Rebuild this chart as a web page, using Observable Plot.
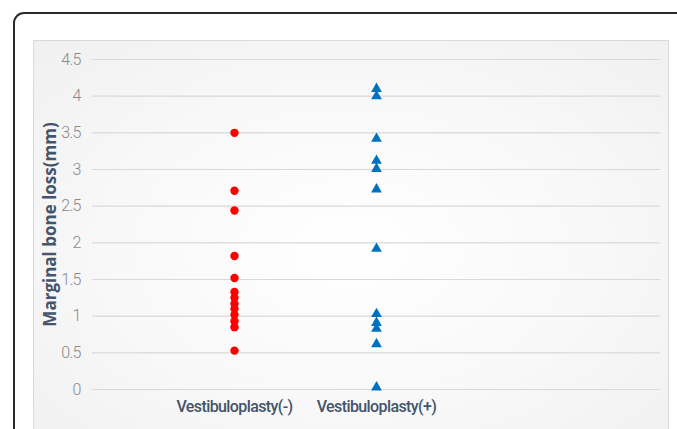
<!DOCTYPE html>
<html>
<head>
<meta charset="utf-8">
<script src="https://cdn.jsdelivr.net/npm/d3@7"></script>
<script src="https://cdn.jsdelivr.net/npm/@observablehq/plot@0.6"></script>
<style>
  html, body { margin: 0; padding: 0; background: #ffffff; overflow: hidden; }
  #wrap { position: relative; width: 677px; height: 429px; overflow: hidden; }
  #frame { position: absolute; left: 13px; top: 12px; width: 700px; height: 460px;
           border: 2px solid #2b2b2b; border-radius: 11px; box-sizing: border-box; }
  #area { position: absolute; left: 33px; top: 40px; width: 636px; height: 420px;
          border: 1px solid #d9d9d9; box-sizing: border-box;
          background: radial-gradient(ellipse at 50% 50%, #ffffff 0%, #f8f8f8 55%, #f0f0f0 100%); }
  #chart { position: absolute; left: 0; top: 0; }
  g[aria-label="x-axis tick label"] { letter-spacing: -0.6px; }
  g[aria-label="y-axis tick label"] { letter-spacing: -0.8px; }
</style>
</head>
<body>
<div id="wrap">
  <div id="frame"></div>
  <div id="area"></div>
  <div id="chart"></div>
</div>
<script>
const categories = ["Vestibuloplasty(-)", "Vestibuloplasty(+)"];
const categoryPositions = [1, 2];
const minusValues = [3.5, 2.71, 2.44, 1.82, 1.52, 1.33, 1.25, 1.17, 1.1, 1.02, 0.93, 0.85, 0.53];
const plusValues = [4.1, 4.0, 3.42, 3.12, 3.01, 2.73, 1.92, 1.03, 0.91, 0.83, 0.62, 0.03];
const yTicks = [0, 0.5, 1, 1.5, 2, 2.5, 3, 3.5, 4, 4.5];
const yTitle = "Marginal bone loss(mm)";

const minusData = minusValues.map(v => ({x: categoryPositions[0], y: v}));
const plusData = plusValues.map(v => ({x: categoryPositions[1], y: v}));

const chart = Plot.plot({
  width: 677,
  height: 429,
  marginLeft: 92,
  marginRight: 17,
  marginTop: 59,
  marginBottom: 40,
  style: {background: "transparent", overflow: "visible"},
  x: {domain: [0, 4]},
  y: {domain: [0, 4.5]},
  marks: [
    Plot.gridY(yTicks, {stroke: "#d9d9d9", strokeOpacity: 1, strokeWidth: 1.2}),
    Plot.axisY(yTicks, {
      tickSize: 0, tickPadding: 12, label: null,
      tickFormat: d => String(d),
      fontFamily: "Roboto, sans-serif", fontWeight: 300,
      fontSize: 16, fill: "#8a8a8a"
    }),
    Plot.axisX(categoryPositions, {
      tickSize: 0, tickPadding: 11, label: null,
      tickFormat: (d, i) => categories[i],
      fontFamily: "Roboto, sans-serif",
      fontSize: 16, fontWeight: 500, fill: "#44546a"
    }),
    Plot.text([yTitle], {
      frameAnchor: "left", dx: -42, rotate: -90, textAnchor: "middle",
      text: d => d,
      fontFamily: "'Open Sans', sans-serif",
      fontSize: 17, fontWeight: "bold", fill: "#44546a"
    }),
    Plot.dot(minusData, {x: "x", y: "y", r: 4.2, fill: "#ff0000", symbol: "circle"}),
    Plot.dot(plusData, {x: "x", y: "y", r: 4, fill: "#0070c0", symbol: "triangle"})
  ]
});
document.getElementById("chart").appendChild(chart);
</script>
</body>
</html>
